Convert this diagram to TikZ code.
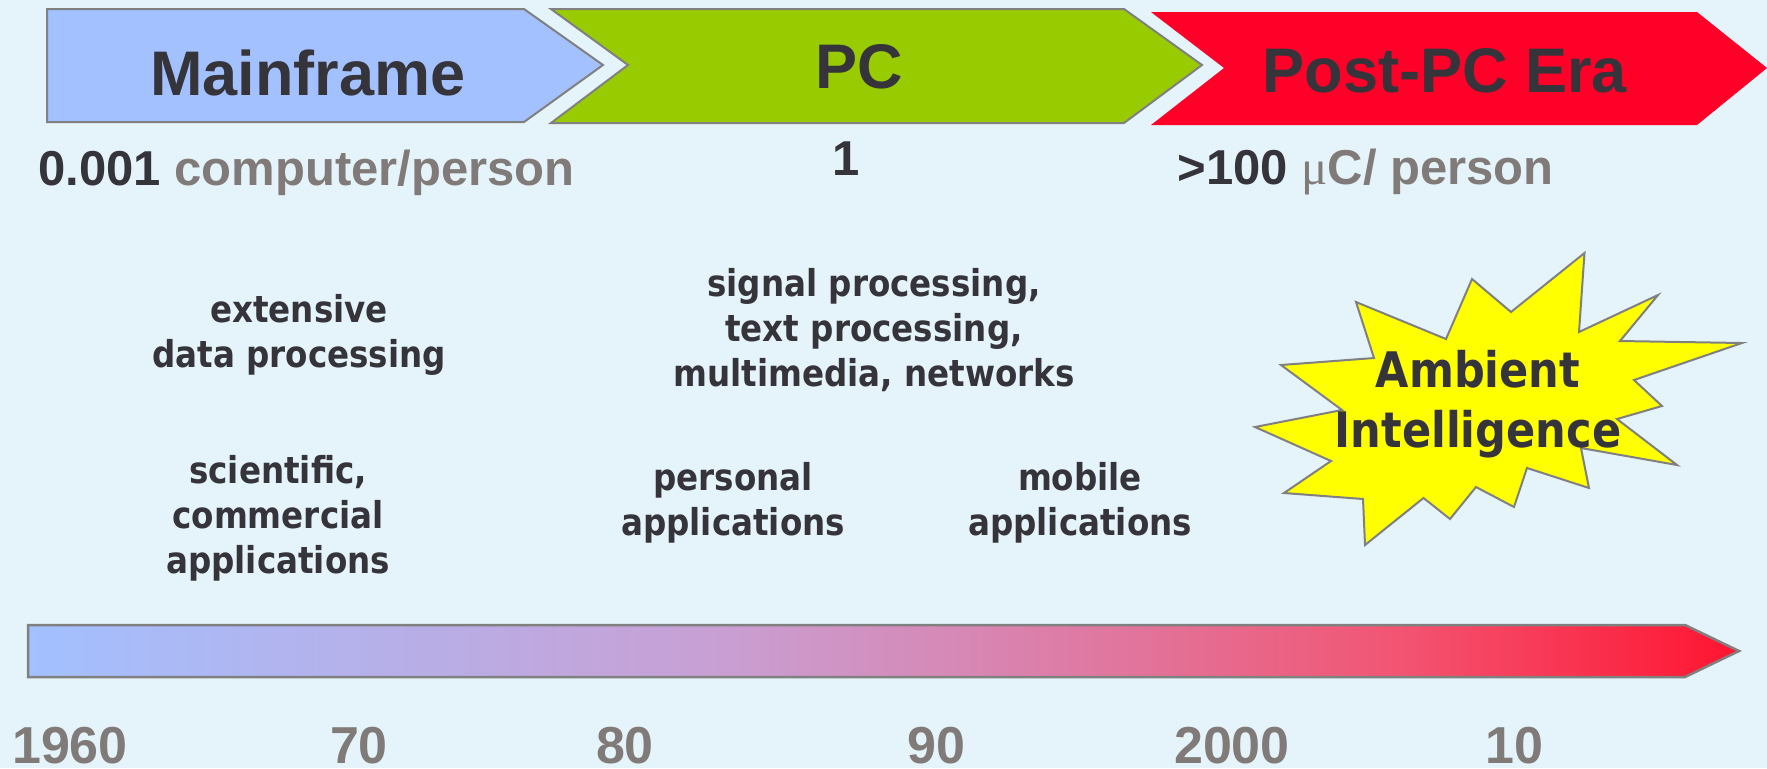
\documentclass[tikz,border=0pt]{standalone}
\usepackage{fontspec}
\setmainfont{Liberation Sans}
\newfontfamily\labelfont[FakeStretch=0.88]{DejaVu Sans}
\newfontfamily\mufont{Liberation Serif}

\definecolor{bgc}{RGB}{229,244,250}
\definecolor{ink}{RGB}{53,52,58}
\definecolor{muted}{RGB}{128,123,120}
\definecolor{edge}{RGB}{128,128,128}
\definecolor{mainblue}{RGB}{163,192,255}
\definecolor{pcgreen}{RGB}{153,204,0}
\definecolor{erared}{RGB}{255,0,41}
\definecolor{burst}{RGB}{255,255,0}
\definecolor{tlA}{RGB}{163,192,255}
\definecolor{tlB}{RGB}{200,160,212}
\definecolor{tlC}{RGB}{215,135,180}
\definecolor{tlD}{RGB}{242,85,115}
\definecolor{tlE}{RGB}{255,20,48}

\pgfdeclarehorizontalshading{timeline}{100bp}{%
  color(0bp)=(tlA); color(25bp)=(tlA); color(45bp)=(tlB);
  color(52.5bp)=(tlC); color(65bp)=(tlD); color(75bp)=(tlE); color(100bp)=(tlE)}

% centred lines whose first baseline is the node's baseline
\newcommand\linesof[1]{\begin{tabular}[t]{@{}c@{}}#1\end{tabular}}

\begin{document}
\begin{tikzpicture}[x=0.5pt,y=-0.5pt,
  era/.style={font=\bfseries\fontsize{31.5}{36}\selectfont, text=ink, inner sep=0, anchor=base},
  ratio/.style={font=\bfseries\fontsize{24.5}{30}\selectfont, text=ink, inner sep=0},
  area/.style={font=\labelfont\bfseries\fontsize{18.5}{22.5}\selectfont, text=ink,
    inner sep=0, anchor=base},
  year/.style={font=\bfseries\fontsize{26}{30}\selectfont, text=muted, inner sep=0,
    anchor=base, text depth=0pt},
  outline/.style={draw=edge, line width=1pt, line join=miter}]

% canvas
\fill[bgc] (0,0) rectangle (1767,768);
\useasboundingbox (0,0) rectangle (1767,768);

% era chevrons
\filldraw[outline, fill=mainblue]
  (47,9) -- (524,9) -- (603,65) -- (524,122) -- (47,122) -- cycle;
\filldraw[outline, fill=pcgreen]
  (551,9) -- (1124,9) -- (1202,65) -- (1124,123) -- (551,123) -- (628,65) -- cycle;
\fill[erared]
  (1151,12) -- (1697,12) -- (1767,68) -- (1697,125) -- (1151,125) -- (1224,68) -- cycle;

\node[era] (mainframe) at (308,95) {Mainframe};
\node[era] (pc) at (859,88) {PC};
\node[era] (postpc) at (1445,92) {Post-PC Era};

% computers per person
\node[ratio, anchor=base west] (ratioA) at (38,185)
  {0.001 \textcolor{muted}{computer/person}};
\node[ratio, anchor=base] (ratioB) at (846,175) {1};
\node[ratio, anchor=base west] (ratioC) at (1177,184)
  {>100 \textcolor{muted}{{\mufont\mdseries μ}C/ person}};

% application areas
\node[area] (dataproc) at (299,322) {\linesof{extensive\\data processing}};
\node[area] (scicom) at (278,483) {\linesof{scientific,\\commercial\\applications}};
\node[area] (signal) at (874,296) {\linesof{signal processing,\\text processing,\\multimedia, networks}};
\node[area] (personal) at (733,490) {\linesof{personal\\applications}};
\node[area] (mobile) at (1080,490) {\linesof{mobile\\applications}};

% ambient intelligence burst
\filldraw[draw=edge, line width=1pt, fill=burst]
  (1584.5,253) -- (1579,332) -- (1658,295) -- (1620,341) -- (1742,343)
  -- (1634,380) -- (1662,406) -- (1617,419) -- (1677,465) -- (1581,448)
  -- (1589,488) -- (1527,468) -- (1514,507) -- (1476,487) -- (1450,519)
  -- (1423.5,498) -- (1365,545) -- (1363,499) -- (1284,493) -- (1331,461)
  -- (1255,427) -- (1342,410) -- (1281,365) -- (1374,358) -- (1356,302)
  -- (1446,339) -- (1472,279) -- (1511,312) -- cycle;
\node[area, font=\labelfont\bfseries\fontsize{24.5}{30}\selectfont] (ambient) at (1478,387)
  {\linesof{Ambient\\Intelligence}};

% time axis
\shade[shading=timeline, draw=edge, line width=1.25pt]
  (28,625) -- (1685,625) -- (1739,651) -- (1685,677) -- (28,677) -- cycle;

\node[year] (y1960) at (70,763) {1960};
\node[year] (y1970) at (359,763) {70};
\node[year] (y1980) at (625,763) {80};
\node[year] (y1990) at (936,763) {90};
\node[year] (y2000) at (1232,763) {2000};
\node[year] (y2010) at (1514,763) {10};
\end{tikzpicture}
\end{document}
